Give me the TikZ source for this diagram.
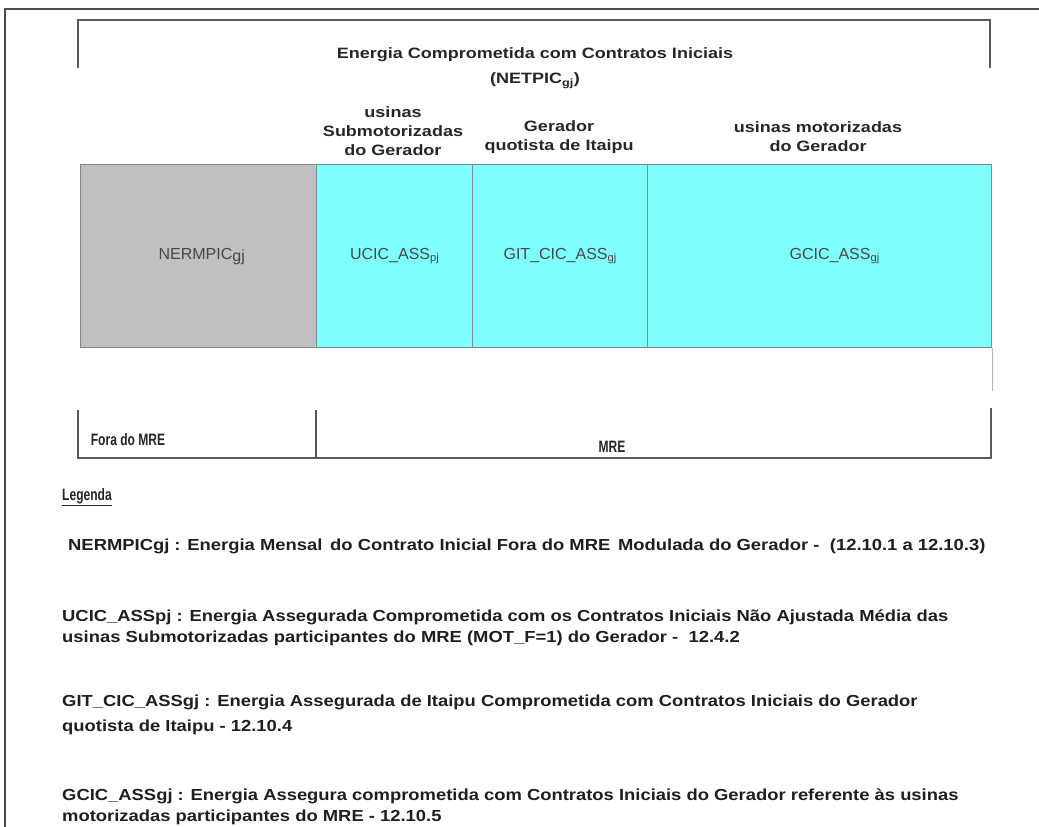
\documentclass[tikz,border=0pt]{standalone}
\usepackage{fontspec}
\setmainfont{Liberation Sans}
\newfontfamily\legfont{Liberation Sans}[FakeStretch=1.15]
\newfontfamily\hdrfont{Liberation Sans}[FakeStretch=1.2]
\newfontfamily\narfont{Liberation Sans}[FakeStretch=0.73]
\definecolor{cellcyan}{HTML}{80FFFF}
\definecolor{cellgray}{HTML}{C0C0C0}
\definecolor{cellline}{HTML}{7F8C8C}
\begin{document}
\begin{tikzpicture}[x=1pt,y=-1pt,
  frameline/.style={draw=black!70,line width=1.8pt},
  brk/.style={draw=black!65,line width=1.2pt},
  cell/.style={draw=cellline,line width=1.4pt,minimum height=183pt,inner sep=0pt,anchor=north west,font=\fontsize{16}{18}\selectfont,text=black!72},
  hdr/.style={font=\hdrfont\bfseries\fontsize{15}{19}\selectfont,align=center,text=black!85,inner sep=0pt},
  nar/.style={font=\narfont\bfseries\fontsize{16.5}{19}\selectfont,text=black!85,inner sep=0pt},
  leg/.style={font=\legfont\bfseries\fontsize{16}{21}\selectfont,anchor=west,align=left,text=black!88,inner sep=0pt}]
\useasboundingbox[fill=white] (0,0) rectangle (1039,827);
% outer page frame
\coordinate (ftl) at (5,9);
\draw[frameline] (5,827) -- (ftl) -- (1039,9);
% top bracket
\coordinate (tb1) at (78,68);
\coordinate (tb2) at (78,20);
\coordinate (tb3) at (990,20);
\coordinate (tb4) at (990,68);
\draw[brk] (tb1) -- (tb2) -- (tb3) -- (tb4);
\node[hdr] (title) at (535,55) {Energia Comprometida com Contratos Iniciais};
\node[hdr] (netpic) at (535,81) {(NETPIC\textsubscript{gj})};
% column headers
\node[hdr] (h1) at (393,131) {usinas\\Submotorizadas\\do Gerador};
\node[hdr] (h2) at (559,137) {Gerador\\quotista de Itaipu};
\node[hdr] (h3) at (818,137) {usinas motorizadas\\do Gerador};
% cells
\node[cell,fill=cellgray,minimum width=236pt] (c1) at (80,164) {\hspace*{6pt}NERMPIC\raisebox{-2pt}{gj}};
\node[cell,fill=cellcyan,minimum width=156pt] (c2) at (316,164) {UCIC\_ASS\textsubscript{pj}};
\node[cell,fill=cellcyan,minimum width=175pt] (c3) at (472,164) {GIT\_CIC\_ASS\textsubscript{gj}};
\node[cell,fill=cellcyan,minimum width=344pt] (c4) at (647,164) {\hspace*{30pt}GCIC\_ASS\textsubscript{gj}};
\draw[draw=black!30,line width=1.4pt] (c4.south east) -- ++(0,43);
% bottom bracket
\coordinate (bl) at (78,458);
\coordinate (bm) at (316,458);
\coordinate (br) at (991,458);
\draw[brk] (78,410) -- (bl) -- (br) -- (991,408);
\draw[brk] (316,410) -- (bm);
\node[nar] (fora) at (128,440) {Fora do MRE};
\node[nar] (mre) at (612,447) {MRE};
% legend
\node[nar,anchor=west] (legenda) at (62,497) {\underline{Legenda}};
\node[leg] (l1) at (68,546) {NERMPICgj : Energia Mensal\, do Contrato Inicial Fora do MRE\, Modulada do Gerador -\,\, (12.10.1 a 12.10.3)};
\node[leg] (l2) at (62,628) {UCIC\_ASSpj : Energia Assegurada Comprometida com os Contratos Iniciais Não Ajustada Média das\\usinas Submotorizadas participantes do MRE (MOT\_F=1) do Gerador -\,\, 12.4.2};
\node[leg] (l3) at (62,715) {GIT\_CIC\_ASSgj : Energia Assegurada de Itaipu Comprometida com Contratos Iniciais do Gerador\\[4pt]quotista de Itaipu - 12.10.4};
\node[leg] (l4) at (62,807) {GCIC\_ASSgj : Energia Assegura comprometida com Contratos Iniciais do Gerador referente às usinas\\motorizadas participantes do MRE - 12.10.5};
\end{tikzpicture}
\end{document}
